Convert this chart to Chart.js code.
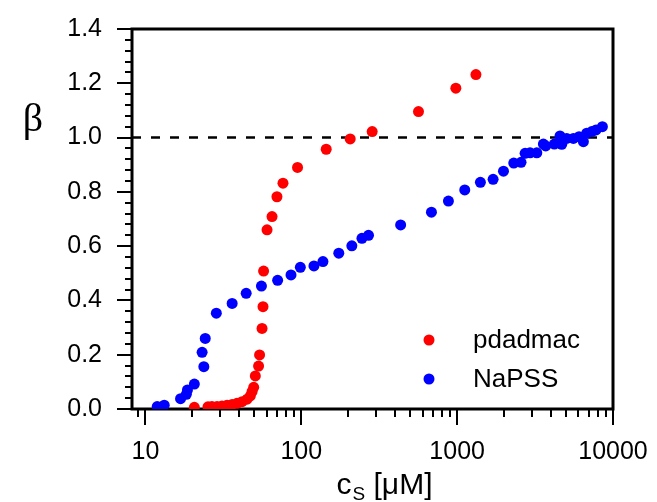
<!DOCTYPE html>
<html>
<head>
<meta charset="utf-8">
<script src="https://cdn.jsdelivr.net/npm/chart.js@4"></script>
<style>
  html, body { margin: 0; padding: 0; background: #fff; }
</style>
</head>
<body>
<canvas id="betaChart" width="657" height="502"></canvas>
<script>
// salt concentration c_S [uM] and beta
const csPdadmac = [20.6, 25.2, 26.7, 28.8, 31.0, 33.4, 36.0, 38.7, 41.7, 44.9, 47.1, 48.3, 49.5, 50.7,
  53.2, 54.0, 56.0, 56.8, 57.3, 60.3, 64.9, 69.8, 76.3, 94.6, 144.5, 206, 285, 565, 981, 1320];
const betaPdadmac = [0.006, 0.008, 0.009, 0.009, 0.011, 0.014, 0.017, 0.021, 0.027, 0.036, 0.048, 0.064, 0.08, 0.122,
  0.158, 0.199, 0.297, 0.377, 0.508, 0.66, 0.709, 0.782, 0.832, 0.89, 0.957, 0.995, 1.022, 1.096, 1.182, 1.232];

const csNapss = [11.9, 13.2, 16.8, 18.3, 18.6, 20.6, 23.7, 23.1, 24.2, 28.5, 36.0, 44.3, 55.5, 70.5, 85.9, 98.6,
  120.6, 137.7, 174, 211, 245, 270, 434, 684, 879, 1119, 1410, 1701, 1983, 2308, 2570, 2729, 2938, 3243,
  3575, 3701, 4204, 4571, 4690, 5047, 5570, 6057, 6456, 6782, 7306, 7786, 8550];
const betaNapss = [0.009, 0.014, 0.038, 0.054, 0.07, 0.092, 0.156, 0.209, 0.26, 0.353, 0.389, 0.426, 0.453, 0.474, 0.494, 0.522,
  0.527, 0.543, 0.574, 0.601, 0.629, 0.64, 0.678, 0.725, 0.766, 0.807, 0.835, 0.846, 0.876, 0.906, 0.909, 0.942, 0.944, 0.944,
  0.976, 0.969, 0.976, 1.006, 0.975, 0.997, 0.997, 1.003, 0.985, 1.016, 1.022, 1.028, 1.04];

const xTickLabels = [10, 100, 1000, 10000];
const yTickLabels = [0, 0.2, 0.4, 0.6, 0.8, 1.0, 1.2, 1.4];
const refLine = 1.0;

const font = "'Liberation Sans', Arial, sans-serif";

const toPoints = (xs, ys) => xs.map((x, i) => ({ x: x, y: ys[i] }));

// frame, outward ticks (major + minor) and the dashed reference line
const framePlugin = {
  id: "frame",
  beforeDatasetsDraw(chart) {
    const { ctx, chartArea: a, scales } = chart;
    const xs = scales.x, ys = scales.y;
    ctx.save();
    ctx.strokeStyle = "#000";
    ctx.lineWidth = 3;
    ctx.strokeRect(a.left, a.top, a.right - a.left, a.bottom - a.top);

    ctx.lineWidth = 2;
    ctx.beginPath();
    for (let d = 1; d <= 10000; d *= 10) {
      for (let m = 1; m <= 9; m++) {
        const v = d * m;
        if (v < xs.min || v > xs.max) continue;
        const px = Math.round(xs.getPixelForValue(v));
        const len = m === 1 ? 16 : 8;
        ctx.moveTo(px, a.bottom);
        ctx.lineTo(px, a.bottom + len);
      }
    }
    for (let i = 0; i <= 35; i++) {
      const v = i * 0.04;
      const py = Math.round(ys.getPixelForValue(v));
      const len = i % 5 === 0 ? 15 : 7;
      ctx.moveTo(a.left, py);
      ctx.lineTo(a.left - len, py);
    }
    ctx.stroke();

    const yr = ys.getPixelForValue(refLine);
    ctx.lineWidth = 2.5;
    ctx.setLineDash([9, 10]);
    ctx.beginPath();
    ctx.moveTo(a.left, yr);
    ctx.lineTo(a.right, yr);
    ctx.stroke();
    ctx.restore();
  },
};

// axis titles and the in-plot legend
const labelPlugin = {
  id: "labels",
  afterDraw(chart) {
    const { ctx } = chart;
    ctx.save();
    ctx.fillStyle = "#000";
    ctx.textBaseline = "middle";

    ctx.font = "40px 'Liberation Serif', serif";
    ctx.textAlign = "center";
    ctx.fillText("β", 33, 120);

    // c_S [uM]
    ctx.textAlign = "left";
    ctx.textBaseline = "alphabetic";
    ctx.font = "30px " + font;
    const w1 = ctx.measureText("c").width;
    ctx.font = "19px " + font;
    const w2 = ctx.measureText("S").width;
    ctx.font = "30px " + font;
    const w3 = ctx.measureText(" [μM]").width;
    const x0 = 384 - (w1 + w2 + w3) / 2;
    const base = 494;
    ctx.fillText("c", x0, base);
    ctx.font = "19px " + font;
    ctx.fillText("S", x0 + w1 + 1, base + 6);
    ctx.font = "30px " + font;
    ctx.fillText(" [μM]", x0 + w1 + w2 + 1, base);

    // legend
    ctx.textBaseline = "middle";
    ctx.font = "26px " + font;
    chart.data.datasets.forEach((ds, i) => {
      const y = 340 + i * 39;
      ctx.fillStyle = ds.backgroundColor;
      ctx.beginPath();
      ctx.arc(429, y, 5.5, 0, Math.PI * 2);
      ctx.fill();
      ctx.fillStyle = "#000";
      ctx.fillText(ds.label, 473, y + 1);
    });
    ctx.restore();
  },
};

const ctx = document.getElementById("betaChart").getContext("2d");
const chart = new Chart(ctx, {
  type: "scatter",
  data: {
    datasets: [
      {
        label: "pdadmac",
        data: toPoints(csPdadmac, betaPdadmac),
        backgroundColor: "#ff0000",
        borderWidth: 0,
        pointRadius: 5.5,
      },
      {
        label: "NaPSS",
        data: toPoints(csNapss, betaNapss),
        backgroundColor: "#0000ff",
        borderWidth: 0,
        pointRadius: 5.5,
      },
    ],
  },
  options: {
    responsive: false,
    animation: false,
    layout: {
      padding: { top: 29, right: 44, left: 0, bottom: 0 },
    },
    plugins: {
      legend: { display: false },
      tooltip: { enabled: false },
    },
    scales: {
      x: {
        type: "logarithmic",
        min: 8.2,
        max: 10000,
        afterBuildTicks: (s) => {
          s.ticks = xTickLabels.map((v) => ({ value: v }));
        },
        afterFit: (s) => {
          s.height = 93;
          s.paddingLeft = 0;
          s.paddingRight = 0;
        },
        grid: { display: false, drawTicks: false },
        border: { display: false },
        ticks: {
          color: "#000",
          font: { family: font, size: 25 },
          padding: 28,
          maxRotation: 0,
          autoSkip: false,
          callback: (v) => String(v),
        },
      },
      y: {
        min: 0,
        max: 1.4,
        afterBuildTicks: (s) => {
          s.ticks = yTickLabels.map((v) => ({ value: v }));
        },
        afterFit: (s) => {
          s.width = 132;
          s.paddingTop = 0;
          s.paddingBottom = 0;
        },
        grid: { display: false, drawTicks: false },
        border: { display: false },
        ticks: {
          color: "#000",
          font: { family: font, size: 25 },
          padding: 30,
          callback: (v) => v.toFixed(1),
        },
      },
    },
  },
  plugins: [framePlugin, labelPlugin],
});
</script>
</body>
</html>
